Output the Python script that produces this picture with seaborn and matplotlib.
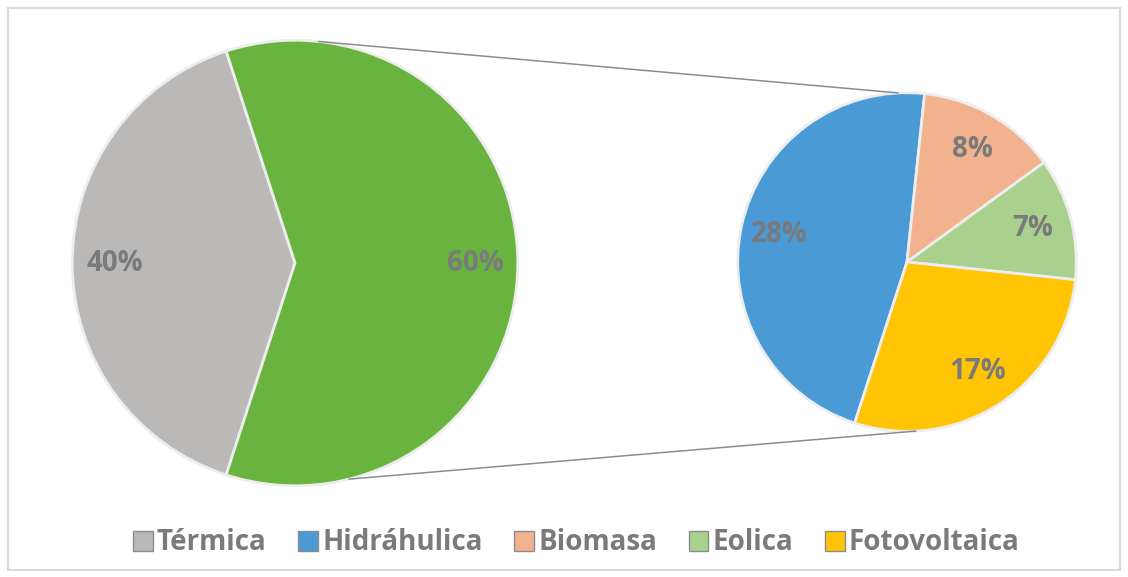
import numpy as np
import matplotlib
matplotlib.use("Agg")
import matplotlib.pyplot as plt
import seaborn as sns
from matplotlib.patches import ConnectionPatch, Patch, Rectangle

# data
main_labels = ['Térmica', 'Otras']
main_values = [40, 60]
sub_labels = ['Hidráhulica', 'Biomasa', 'Eolica', 'Fotovoltaica']
sub_values = [28, 8, 7, 17]

main_colors = ['#BBB8B8', '#69B33F']
sub_colors = ['#4A9AD5', '#F3B28E', '#A9D08D', '#FFC404']

sns.set_theme(style='white')
plt.rcParams['font.family'] = ['Open Sans', 'DejaVu Sans']
text_grey = '#7A7A7A'

fig = plt.figure(figsize=(11.28, 5.77), dpi=100)
W, H = 1128, 577

def square_axes(cx, cy, r):
    return fig.add_axes([(cx - r) / W, 1 - (cy + r) / H, 2 * r / W, 2 * r / H])

ax1 = square_axes(295, 263, 225)
ax2 = square_axes(907, 262, 171)

wp = dict(edgecolor='#EDEDED', linewidth=2)
tp = dict(color=text_grey, fontsize=20, fontweight='bold')

w1, _, _ = ax1.pie(main_values, colors=main_colors, startangle=252, counterclock=False,
                   autopct=lambda p: f'{p:.0f}%', pctdistance=0.81,
                   wedgeprops=wp, textprops=tp)
total_sub = sum(sub_values)
w2, _, _ = ax2.pie(sub_values, colors=sub_colors, startangle=252, counterclock=False,
                   autopct=lambda p: f'{p * total_sub / 100:.0f}%', pctdistance=0.77,
                   wedgeprops=wp, textprops=tp)
for ax in (ax1, ax2):
    ax.set_xlim(-1.01, 1.01)
    ax.set_ylim(-1.01, 1.01)
    ax.axis('off')

# connector lines from the "other" slice to the second pie
for a_main, a_sub in [(84, 93), (-76, -87)]:
    t1, t2 = np.deg2rad(a_main), np.deg2rad(a_sub)
    con = ConnectionPatch(xyA=(np.cos(t1), np.sin(t1)), coordsA=ax1.transData,
                          xyB=(np.cos(t2), np.sin(t2)), coordsB=ax2.transData,
                          color='#8C8C8C', linewidth=1.1)
    fig.add_artist(con)

# legend
handles = [Patch(facecolor=main_colors[0], edgecolor='#8C8C8C', label=main_labels[0])]
handles += [Patch(facecolor=c, edgecolor='#8C8C8C', label=l) for c, l in zip(sub_colors, sub_labels)]
leg = fig.legend(handles=handles, loc='center', bbox_to_anchor=(0.511, 1 - 543 / H), ncol=5,
                 frameon=False, handlelength=0.7, handleheight=0.7, handletextpad=0.15,
                 columnspacing=1.15, prop=dict(family='Open Sans', weight='bold', size=20))
for t in leg.get_texts():
    t.set_color(text_grey)

# outer frame
fig.add_artist(Rectangle((8 / W, 1 - 570 / H), 1112 / W, 562 / H, transform=fig.transFigure,
                         fill=False, edgecolor='#D9D9D9', linewidth=1.5))

fig.savefig('out.png', dpi=100)
